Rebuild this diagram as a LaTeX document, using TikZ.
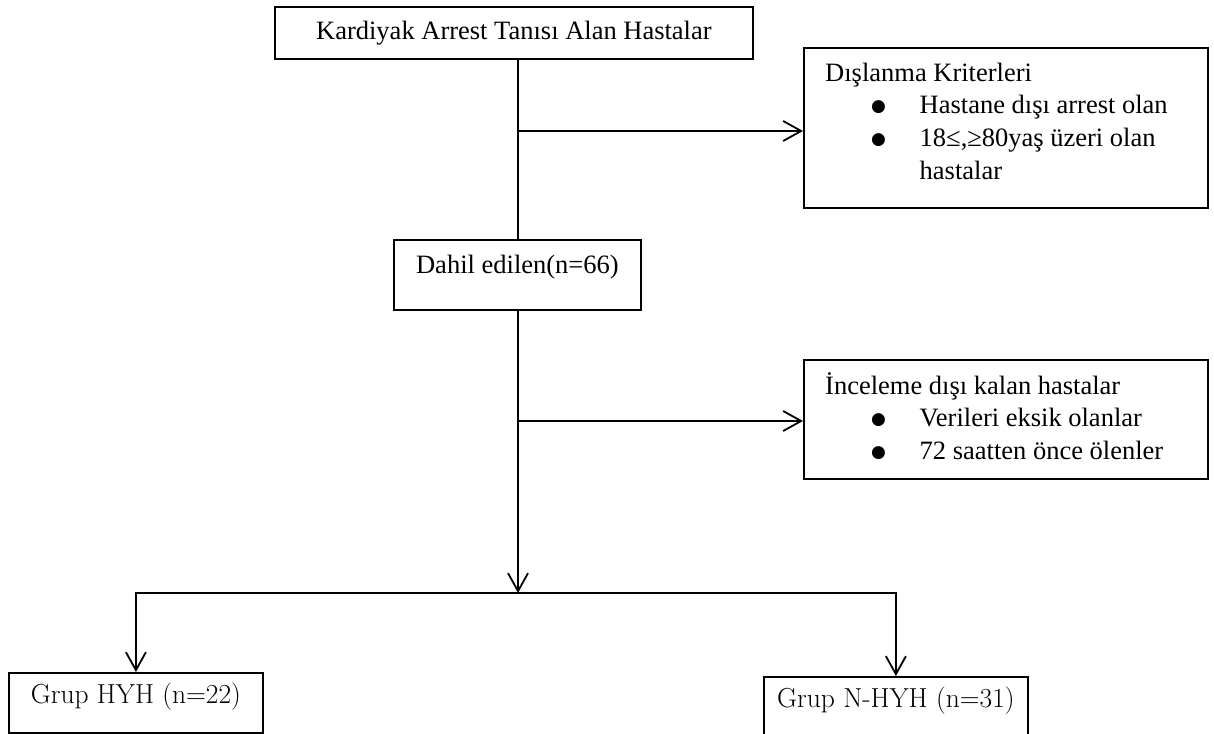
\documentclass[tikz,border=0pt]{standalone}
\usepackage{fontspec}
\newfontfamily\garfont{Liberation Serif}
\newfontfamily\symfont{DejaVu Sans}
\usetikzlibrary{arrows.meta}
\newcommand{\blt}{\makebox[48.5pt][l]{\raisebox{2.5pt}{\symfont\fontsize{17}{17}\selectfont ●}}}

\begin{document}
\begin{tikzpicture}[x=1pt, y=-1pt,
		box/.style={draw, line width=1.8pt, anchor=north west, inner sep=0pt},
		txt/.style={font=\garfont\fontsize{26.5}{32.7}\selectfont},
		grp/.style={font=\fontsize{27.5}{32}\selectfont},
		conn/.style={line width=1.8pt},
		arr/.style={line width=1.8pt, -{Straight Barb[length=18pt, width=20pt, line width=1.8pt]}}]
	\useasboundingbox (0,0) rectangle (1214,733);

	% Nodes
	\node[box, txt, minimum width=478pt, text height=33pt, text depth=19pt] (kardiyak) at (274,6) {Kardiyak Arrest Tanısı Alan Hastalar};
	\node[box, minimum width=404pt, minimum height=160pt] (excl1) at (803,47) {};
	\node[txt, anchor=north west, inner sep=0pt, align=left] (excl1txt) at (825,57)
		{\rule{0pt}{24pt}Dışlanma Kriterleri\\
		 \hspace*{46pt}\blt Hastane dışı arrest olan\\
		 \hspace*{46pt}\blt 18≤,≥80yaş üzeri olan\\
		 \hspace*{94.5pt}hastalar};
	\node[box, txt, minimum width=247pt, text height=34pt, text depth=36pt] (dahil) at (393,239) {Dahil edilen(n=66)};
	\node[box, minimum width=404pt, minimum height=119pt] (excl2) at (803,359) {};
	\node[txt, anchor=north west, inner sep=0pt, align=left] (excl2txt) at (825,370)
		{\rule{0pt}{24pt}İnceleme dışı kalan hastalar\\
		 \hspace*{46pt}\blt Verileri eksik olanlar\\
		 \hspace*{46pt}\blt 72 saatten önce ölenler};
	\node[box, grp, minimum width=254pt, text height=31pt, text depth=29pt] (hyh) at (8,672) {Grup HYH (n=22)};
	\node[box, grp, minimum width=264pt, text height=31pt, text depth=40pt] (nhyh) at (763,676) {Grup N-HYH (n=31)};

	\coordinate (j1) at (518,131);
	\coordinate (j2) at (518,421);
	\coordinate (split) at (518,593);

	% Arrows
	\draw[conn] (kardiyak.south -| j1) -- (dahil.north -| j1);
	\draw[arr] (j1) -- (excl1.west |- j1);
	\draw[arr] (dahil.south -| split) -- (split);
	\draw[arr] (j2) -- (excl2.west |- j2);
	\draw[arr] (split) -| (hyh.north);
	\draw[arr] (split) -| (nhyh.north);
\end{tikzpicture}
\end{document}
